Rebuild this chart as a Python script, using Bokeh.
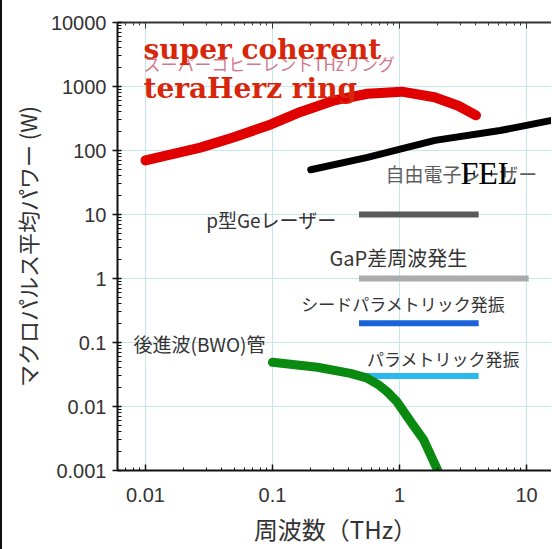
from bokeh.plotting import figure
from bokeh.models import Range1d, FixedTicker, LogAxis, ColumnDataSource
from bokeh.core.properties import value
from bokeh.embed import file_html
from bokeh.resources import INLINE

# ---- data ----
x_ticks = [0.01, 0.1, 1, 10]
x_tick_labels = ["0.01", "0.1", "1", "10"]
y_ticks = [0.001, 0.01, 0.1, 1, 10, 100, 1000, 10000]
y_tick_labels = ["0.001", "0.01", "0.1", "1", "10", "100", "1000", "10000"]

ring_freq = [0.01, 0.027, 0.049, 0.092, 0.166, 0.30, 0.56, 1.04, 1.89, 2.9, 4.0]
ring_power = [70, 111, 160, 245, 400, 600, 770, 830, 680, 500, 355]

fel_freq = [0.20, 0.56, 1.9, 6.2, 16.3]
fel_power = [50, 78, 144, 205, 300]

bwo_freq = [0.1, 0.226, 0.41, 0.55, 0.68, 0.80, 0.95, 1.24, 1.55, 2.0]
bwo_power = [0.049, 0.041, 0.033, 0.028, 0.022, 0.017, 0.012, 0.0056, 0.0030, 0.001]

bar_names = ["p型Geレーザー", "GaP差周波発生", "シードパラメトリック発振", "パラメトリック発振"]
bar_start = [0.48, 0.48, 0.48, 0.48]
bar_end = [4.2, 10.4, 4.2, 4.2]
bar_level = [10, 1, 0.2, 0.03]

label_texts = ["自由電子レーザー", "p型Geレーザー", "GaP差周波発生", "シードパラメトリック発振",
               "パラメトリック発振", "後進波(BWO)管"]
label_x = [3.08, 0.098, 0.98, 1.07, 2.22, 0.0266]
label_y = [43.7, 8.36, 2.13, 0.407, 0.056, 0.0964]

ring_jp = "スーパーコヒーレントTHzリング"
ring_title = ["super coherent", "teraHerz ring"]
ring_title_x = [0.00964, 0.00964]
ring_title_y = [3790, 930]
ring_jp_y = 2290
fel_title = "FEL"
fel_title_x = 3.02
fel_title_y = 45.3
x_title = "周波数（THz）"
y_title = "マクロパルス平均パワー (W)"

# ---- styles ----
bar_colors = ["#5a5a5a", "#ababab", "#1a62d8", "#2bb8ea"]
label_colors = ["#5e5e5e", "#333333", "#333333", "#333333", "#333333", "#333333"]
label_sizes = ["19px", "19px", "20px", "17px", "17px", "19px"]

# ---- figure ----
W, H = 551, 549
LEFT, TOP, BOTTOM = 115, 22, 79
p = figure(width=W, height=H, x_axis_type="log", y_axis_type="log",
           x_range=Range1d(10 ** -2.2205, 10 ** (-2.2205 + (W - LEFT) / 127.0)),
           y_range=Range1d(0.001, 10000),
           output_backend="svg", toolbar_location=None,
           min_border_left=LEFT, min_border_right=0, min_border_top=TOP,
           min_border_bottom=BOTTOM)
p.styles = {"border-left": "2px solid #111111"}
p.outline_line_color = None
p.background_fill_color = "white"
p.border_fill_color = "white"

def minors(lo, hi):
    out = []
    for e in range(lo, hi):
        for k in range(2, 10):
            out.append(k * 10.0 ** e)
    return out

xt = FixedTicker(ticks=x_ticks, minor_ticks=minors(-3, 2))
yt = FixedTicker(ticks=y_ticks, minor_ticks=minors(-3, 4))

p.xaxis.ticker = xt
p.yaxis.ticker = yt
p.xaxis.major_label_overrides = {t: l for t, l in zip(x_ticks, x_tick_labels)}
p.yaxis.major_label_overrides = {t: l for t, l in zip(y_ticks, y_tick_labels)}
p.xgrid.ticker = xt
p.ygrid.ticker = yt
for g in (p.xgrid, p.ygrid):
    g.grid_line_color = "#c4e8ea"
    g.grid_line_width = 1

for ax in (p.xaxis, p.yaxis):
    ax.axis_line_color = "#111111"
    ax.axis_line_width = 2
    ax.major_tick_line_color = "#111111"
    ax.minor_tick_line_color = "#111111"
    ax.major_tick_line_width = 1.5
    ax.minor_tick_line_width = 1
    ax.major_label_text_font = "Liberation Sans"
    ax.major_label_text_font_size = "20px"
    ax.major_label_text_color = "#333333"
    ax.axis_label_text_font = "Noto Sans CJK JP"
    ax.axis_label_text_font_style = "normal"
    ax.axis_label_text_color = "#333333"

p.xaxis.major_tick_in = 6
p.xaxis.major_tick_out = 0
p.xaxis.minor_tick_in = 3
p.xaxis.minor_tick_out = 0
p.xaxis.major_label_standoff = 17
p.xaxis.axis_label = x_title
p.xaxis.axis_label_text_font_size = "24px"
p.xaxis.axis_label_standoff = 6

p.yaxis.major_tick_in = 4
p.yaxis.major_tick_out = 5
p.yaxis.minor_tick_in = 4
p.yaxis.minor_tick_out = 0
p.yaxis.major_label_standoff = 6
p.yaxis.axis_label = y_title
p.yaxis.axis_label_text_font_size = "22px"
p.yaxis.axis_label_standoff = 5

top = LogAxis(ticker=xt, axis_line_color="#333333", axis_line_width=2,
              major_tick_in=6, major_tick_out=0, minor_tick_in=3, minor_tick_out=0,
              major_tick_line_color="#333333", minor_tick_line_color="#333333",
              major_label_text_font_size="2px", major_label_text_color=None,
              major_label_standoff=0)
p.add_layout(top, "above")

# ---- bars ----
bars = ColumnDataSource(dict(x0=bar_start, x1=bar_end, y=bar_level, c=bar_colors))
p.segment(x0="x0", y0="y", x1="x1", y1="y", line_color="c", line_width=6,
          line_cap="butt", source=bars)

# ---- curves ----
p.line(fel_freq, fel_power, line_color="black", line_width=7, line_cap="round")
p.line(ring_freq, ring_power, line_color="#e00000", line_width=10, line_cap="round")
p.line(bwo_freq, bwo_power, line_color="#0b8a12", line_width=9, line_cap="round")

# ---- texts ----
lab = ColumnDataSource(dict(x=label_x, y=label_y, t=label_texts, c=label_colors, s=label_sizes))
p.text(x="x", y="y", text="t", text_color="c", text_font_size="s", source=lab,
       text_font=value("Noto Sans CJK JP"),
       text_align="center", text_baseline="middle")

p.text(x=[ring_title_x[0]], y=[ring_jp_y], text=[ring_jp], text_color="#c8607a", text_alpha=0.85,
       text_font=value("Noto Sans CJK JP"), text_font_size="17px",
       text_align="left", text_baseline="middle")
p.text(x=ring_title_x, y=ring_title_y, text=ring_title, text_color="#d8260a",
       text_font=value("DejaVu Serif"), text_font_style="bold", text_font_size="28px",
       text_align="left", text_baseline="alphabetic")
p.text(x=[fel_title_x], y=[fel_title_y], text=[fel_title], text_color="black",
       text_font=value("Liberation Serif"), text_font_size="32px",
       text_align="left", text_baseline="alphabetic")

open("out.html", "w").write(file_html(p, INLINE))
